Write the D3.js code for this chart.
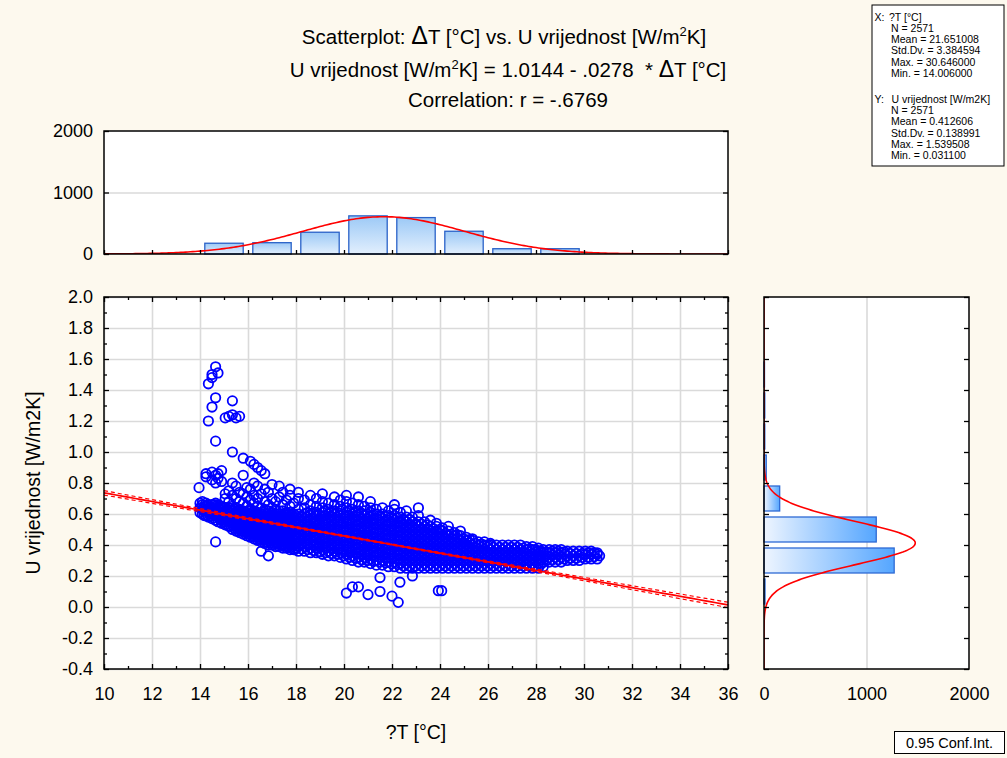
<!DOCTYPE html>
<html><head><meta charset="utf-8">
<script src="https://cdn.jsdelivr.net/npm/d3@7"></script>
<style>
body{margin:0;background:#FDF9EE}
svg text{font-family:"Liberation Sans",Arial,sans-serif}
</style>
</head><body>
<svg id="c" width="1007" height="758"></svg>
<script>
// ---------------- data ----------------
const xTicks = [10,12,14,16,18,20,22,24,26,28,30,32,34,36];
const xMinorTicks = [11,13,15,17,19,21,23,25,27,29,31,33,35];
const yTicks = [-0.4,-0.2,0,0.2,0.4,0.6,0.8,1.0,1.2,1.4,1.6,1.8,2.0];
const yMinorTicks = [-0.3,-0.1,0.1,0.3,0.5,0.7,0.9,1.1,1.3,1.5,1.7,1.9];
const histTicks = [0,1000,2000];

const topHistBins = [14,16,18,20,22,24,26,28];          // bin starts, width 2
const topHistCounts = [175,184,354,620,592,370,86,86];
const rightHistBins = [0.0,0.2,0.4,0.6,0.8,1.0,1.2,1.4]; // bin starts, width 0.2
const rightHistCounts = [10,1270,1095,153,22,8,8,5];

const fitIntercept = 1.0144, fitSlope = -0.0278, fitR = -0.6769;
const nObs = 2571;
const xMean = 21.651008, xSD = 3.384594;
const yMean = 0.412606, ySD = 0.138991;

const statsXLines = ["N = 2571","Mean = 21.651008","Std.Dv. = 3.384594","Max. = 30.646000","Min. = 14.006000"];
const statsYLines = ["N = 2571","Mean = 0.412606","Std.Dv. = 0.138991","Max. = 1.539508","Min. = 0.031100"];

// scatter points: [ΔT, [U values...]]
const scatterCols = [
[13.96,[.77]],
[14.0,[.61,.64,.67]],
[14.1,[.60,.63,.66,.68]],
[14.25,[.59,.62,.65,.67,.84,.86]],
[14.35,[.58,.61,.64,.66,1.20,1.44]],
[14.5,[.57,.60,.63,.66,.82,.87,1.29,1.48,1.50]],
[14.65,[.42,.56,.59,.62,.65,.67,.80,.85,1.07,1.35,1.55]],
[14.75,[.55,.58,.61,.64,.66,.83,.86,1.51]],
[14.9,[.54,.57,.60,.63,.65,.81,.88]],
[15.05,[.53,.56,.59,.62,.64,.70,.73,1.22]],
[15.2,[.52,.55,.58,.61,.64,.68,.75,1.23]],
[15.35,[.50,.53,.56,.59,.62,.65,.72,.80,1.00,1.24,1.33]],
[15.5,[.49,.52,.55,.58,.61,.64,.70,.78,1.22]],
[15.65,[.48,.51,.54,.57,.60,.63,.68,.74,1.23]],
[15.8,[.47,.50,.53,.56,.59,.62,.67,.73,.85,.96]],
[15.95,[.46,.49,.52,.55,.58,.61,.65,.71,.77]],
[16.1,[.45,.48,.51,.54,.57,.60,.63,.69,.76,.94]],
[16.25,[.44,.47,.50,.53,.56,.59,.62,.67,.72,.80,.92]],
[16.4,[.43,.46,.49,.52,.55,.58,.61,.65,.70,.78,.90]],
[16.55,[.36,.42,.45,.48,.51,.54,.57,.60,.64,.73,.88]],
[16.7,[.41,.44,.47,.50,.53,.56,.59,.63,.68,.76,.86]],
[16.85,[.33,.40,.43,.46,.49,.52,.55,.58,.62,.66,.74]],
[17.0,[.40,.43,.46,.49,.52,.55,.58,.61,.64,.70,.79]],
[17.15,[.39,.42,.45,.48,.51,.54,.57,.60,.63,.68]],
[17.3,[.39,.42,.45,.48,.51,.54,.57,.60,.62,.71,.78]],
[17.45,[.38,.41,.44,.47,.50,.53,.56,.59,.62,.66,.74]],
[17.6,[.38,.41,.44,.47,.50,.53,.56,.59,.61,.69]],
[17.75,[.37,.40,.43,.46,.49,.52,.55,.58,.61,.65,.72,.76]],
[17.9,[.37,.40,.43,.46,.49,.52,.55,.58,.60,.67]],
[17.96,[.37]],
[18.1,[.36,.39,.42,.45,.48,.51,.54,.57,.60,.63,.70,.74]],
[18.35,[.36,.39,.42,.45,.48,.51,.54,.57,.60,.64,.69]],
[18.6,[.35,.38,.41,.44,.47,.50,.53,.56,.59,.62,.66,.72]],
[18.85,[.35,.38,.41,.44,.47,.50,.53,.56,.59,.61,.65,.70]],
[19.1,[.34,.37,.40,.43,.46,.49,.52,.55,.58,.61,.64,.68,.73]],
[19.35,[.33,.36,.39,.42,.45,.48,.51,.54,.57,.60,.63,.67]],
[19.6,[.33,.36,.39,.42,.45,.48,.51,.54,.57,.60,.62,.66,.71]],
[19.85,[.32,.35,.38,.41,.44,.47,.50,.53,.56,.59,.62,.65,.69]],
[20.1,[.09,.31,.34,.37,.40,.43,.46,.49,.52,.55,.58,.61,.64,.68,.72]],
[20.35,[.13,.30,.33,.36,.39,.42,.45,.48,.51,.54,.57,.60,.63,.67]],
[20.6,[.13,.29,.32,.35,.38,.41,.44,.47,.50,.53,.56,.59,.62,.66,.71]],
[20.85,[.29,.32,.35,.38,.41,.44,.47,.50,.53,.56,.59,.62,.65]],
[21.0,[.08]],
[21.1,[.28,.31,.34,.37,.40,.43,.46,.49,.52,.55,.58,.61,.64,.68]],
[21.35,[.27,.30,.33,.36,.39,.42,.45,.48,.51,.54,.57,.60,.63]],
[21.5,[.10,.19]],
[21.6,[.27,.30,.33,.36,.39,.42,.45,.48,.51,.54,.57,.60,.64]],
[21.85,[.26,.29,.32,.35,.38,.41,.44,.47,.50,.53,.56,.59,.62]],
[22.0,[.07]],
[22.1,[.26,.29,.32,.35,.38,.41,.44,.47,.50,.53,.56,.59,.63,.66]],
[22.26,[.03]],
[22.33,[.16]],
[22.35,[.25,.28,.31,.34,.37,.40,.43,.46,.49,.52,.55,.58,.61]],
[22.6,[.25,.28,.31,.34,.37,.40,.43,.46,.49,.52,.55,.58,.62]],
[22.85,[.20,.25,.28,.31,.34,.37,.40,.43,.46,.49,.52,.55,.58]],
[23.1,[.25,.28,.31,.34,.37,.40,.43,.46,.49,.52,.55,.59,.64]],
[23.35,[.25,.28,.31,.34,.37,.40,.43,.46,.49,.52,.55]],
[23.6,[.25,.28,.31,.34,.37,.40,.43,.46,.49,.52,.56]],
[23.85,[.25,.28,.31,.34,.37,.40,.43,.46,.49,.52,.54]],
[23.93,[.105]],
[24.07,[.105]],
[24.1,[.25,.28,.31,.34,.37,.40,.43,.46,.49,.51]],
[24.35,[.25,.28,.31,.34,.37,.40,.43,.46,.49,.52]],
[24.6,[.25,.28,.31,.34,.37,.40,.43,.46,.48]],
[24.85,[.25,.28,.31,.34,.37,.40,.43,.46,.49]],
[25.1,[.25,.28,.31,.34,.37,.40,.43,.45]],
[25.35,[.25,.28,.31,.34,.37,.40,.43,.44]],
[25.6,[.25,.28,.31,.34,.37,.40,.42]],
[25.85,[.25,.28,.31,.34,.37,.40,.42]],
[26.1,[.25,.28,.31,.34,.37,.40,.41]],
[26.35,[.25,.28,.31,.34,.37,.40]],
[26.6,[.25,.28,.31,.34,.37,.40]],
[26.85,[.25,.28,.31,.34,.37,.40]],
[27.1,[.25,.28,.31,.34,.37,.40]],
[27.35,[.25,.28,.31,.34,.37,.40]],
[27.6,[.25,.28,.31,.34,.37,.39]],
[27.85,[.25,.28,.31,.34,.37,.39]],
[28.1,[.25,.28,.31,.34,.36,.38]],
[28.3,[.26,.29,.32,.35,.37]],
[28.55,[.29,.32,.35,.37]],
[28.8,[.29,.32,.35,.37]],
[29.05,[.29,.32,.35,.37]],
[29.3,[.30,.33,.36]],
[29.55,[.30,.33,.36]],
[29.8,[.30,.33,.36]],
[30.05,[.31,.34,.36]],
[30.3,[.31,.34,.36]],
[30.55,[.31,.34,.35]],
[30.65,[.33]]
];
// further points inside the dense core of the cloud
const scatterColsCore = [
[14.18,[.59,.62,.65]],
[14.43,[.585,.615,.645]],
[14.58,[.575,.605,.635,.66]],
[14.83,[.565,.595,.625,.655]],
[14.98,[.55,.58,.61,.64]],
[15.13,[.535,.565,.595,.625]],
[15.28,[.52,.55,.58,.61,.635]],
[15.43,[.51,.54,.57,.60,.63]],
[15.58,[.50,.53,.56,.59,.62]],
[15.73,[.49,.52,.55,.58,.61]],
[15.88,[.48,.51,.54,.57,.60]],
[16.03,[.47,.50,.53,.56,.59,.62]],
[16.18,[.46,.49,.52,.55,.58,.61]],
[16.33,[.45,.48,.51,.54,.57,.60]],
[16.48,[.44,.47,.50,.53,.56,.59]],
[16.63,[.43,.46,.49,.52,.55,.58,.61]],
[16.78,[.42,.45,.48,.51,.54,.57,.60]],
[16.93,[.415,.445,.475,.505,.535,.565,.595]],
[17.08,[.41,.44,.47,.50,.53,.56,.59]],
[17.23,[.405,.435,.465,.495,.525,.555,.585]],
[17.38,[.40,.43,.46,.49,.52,.55,.58]],
[17.53,[.395,.425,.455,.485,.515,.545,.575]],
[17.68,[.39,.42,.45,.48,.51,.54,.57,.60]],
[17.83,[.385,.415,.445,.475,.505,.535,.565,.595]],
[18.0,[.38,.41,.44,.47,.50,.53,.56,.59]],
[18.23,[.375,.405,.435,.465,.495,.525,.555,.585]],
[18.48,[.37,.40,.43,.46,.49,.52,.55,.58,.61]],
[18.73,[.365,.395,.425,.455,.485,.515,.545,.575,.605]],
[18.98,[.355,.385,.415,.445,.475,.505,.535,.565,.595]],
[19.23,[.35,.38,.41,.44,.47,.50,.53,.56,.59,.62]],
[19.48,[.345,.375,.405,.435,.465,.495,.525,.555,.585,.615]],
[19.73,[.34,.37,.40,.43,.46,.49,.52,.55,.58,.61]],
[19.98,[.33,.36,.39,.42,.45,.48,.51,.54,.57,.60]],
[20.23,[.32,.35,.38,.41,.44,.47,.50,.53,.56,.59,.62]],
[20.48,[.315,.345,.375,.405,.435,.465,.495,.525,.555,.585,.615]],
[20.73,[.305,.335,.365,.395,.425,.455,.485,.515,.545,.575,.605]],
[20.98,[.30,.33,.36,.39,.42,.45,.48,.51,.54,.57,.60]],
[21.23,[.295,.325,.355,.385,.415,.445,.475,.505,.535,.565,.595]],
[21.48,[.29,.32,.35,.38,.41,.44,.47,.50,.53,.56,.59]],
[21.73,[.285,.315,.345,.375,.405,.435,.465,.495,.525,.555,.585]],
[21.98,[.28,.31,.34,.37,.40,.43,.46,.49,.52,.55,.58]],
[22.23,[.275,.305,.335,.365,.395,.425,.455,.485,.515,.545,.575]],
[22.48,[.265,.295,.325,.355,.385,.415,.445,.475,.505,.535,.565]],
[22.73,[.265,.295,.325,.355,.385,.415,.445,.475,.505,.535,.565]],
[22.98,[.265,.295,.325,.355,.385,.415,.445,.475,.505,.535]],
[23.23,[.265,.295,.325,.355,.385,.415,.445,.475,.505,.535]],
[23.48,[.265,.295,.325,.355,.385,.415,.445,.475,.505,.53]],
[23.73,[.265,.295,.325,.355,.385,.415,.445,.475,.505]],
[23.98,[.265,.295,.325,.355,.385,.415,.445,.475,.50]],
[24.23,[.265,.295,.325,.355,.385,.415,.445,.475]],
[24.48,[.265,.295,.325,.355,.385,.415,.445,.47]],
[24.73,[.265,.295,.325,.355,.385,.415,.445,.465]],
[24.98,[.265,.295,.325,.355,.385,.415,.44]],
[25.23,[.265,.295,.325,.355,.385,.415,.435]],
[25.48,[.265,.295,.325,.355,.385,.41]],
[25.73,[.265,.295,.325,.355,.385,.405]],
[25.98,[.265,.295,.325,.355,.385,.40]],
[26.23,[.265,.295,.325,.355,.385]],
[26.48,[.265,.295,.325,.355,.385]],
[26.73,[.265,.295,.325,.355,.385]],
[26.98,[.265,.295,.325,.355,.385]],
[27.23,[.265,.295,.325,.355,.385]],
[27.48,[.265,.295,.325,.355,.38]],
[27.73,[.265,.295,.325,.355,.375]],
[27.98,[.265,.295,.325,.355,.37]],
[28.2,[.275,.305,.335,.36]],
[28.43,[.30,.33,.355]],
[28.68,[.305,.335,.36]],
[28.93,[.305,.335,.36]],
[29.18,[.31,.34,.355]],
[29.43,[.315,.345]],
[29.68,[.315,.345]],
[29.93,[.32,.345]],
[30.18,[.32,.35]],
[30.43,[.325,.35]]
];

// ---------------- drawing ----------------
const FONT = '"Liberation Sans", Arial, sans-serif';
const fmtLocale = d3.formatLocale({decimal:".", thousands:"", grouping:[3], currency:["",""], minus:"-"});
const svg = d3.select("#c");
svg.append("rect").attr("width",1007).attr("height",758).attr("fill","#FDF9EE");

const defs = svg.append("defs");
const gTop = defs.append("linearGradient").attr("id","gTop").attr("x1",0).attr("y1",0).attr("x2",0).attr("y2",1);
gTop.append("stop").attr("offset","0%").attr("stop-color","#9CC9F6");
gTop.append("stop").attr("offset","100%").attr("stop-color","#E2EFFD");
const gRight = defs.append("linearGradient").attr("id","gRight").attr("x1",0).attr("y1",0).attr("x2",1).attr("y2",0);
gRight.append("stop").attr("offset","0%").attr("stop-color","#EEF5FF");
gRight.append("stop").attr("offset","100%").attr("stop-color","#55A6FF");

const x = d3.scaleLinear().domain([10,36]).range([104,728]);
const y = d3.scaleLinear().domain([-0.4,2.0]).range([669,297]);
const yTop = d3.scaleLinear().domain([0,2000]).range([254,131]);
const xRight = d3.scaleLinear().domain([0,2000]).range([764,969]);

defs.append("clipPath").attr("id","clipMain").append("rect")
  .attr("x",x(10)).attr("y",y(2)).attr("width",x(36)-x(10)).attr("height",y(-0.4)-y(2));
defs.append("clipPath").attr("id","clipTop").append("rect")
  .attr("x",x(10)).attr("y",yTop(2000)).attr("width",x(36)-x(10)).attr("height",yTop(0)-yTop(2000));
defs.append("clipPath").attr("id","clipRight").append("rect")
  .attr("x",xRight(0)).attr("y",y(2)).attr("width",xRight(2000)-xRight(0)).attr("height",y(-0.4)-y(2));

function clean(g, fs){
  g.attr("font-family",FONT).attr("font-size",fs||18);
  g.select(".domain").remove();
  g.selectAll("text").attr("fill","#000");
  return g;
}
function grid(g){ g.select(".domain").remove(); g.selectAll("line").attr("stroke","#DADADA").attr("stroke-width",1.6); g.selectAll("text").remove(); }
function ticks(g){ g.select(".domain").remove(); g.selectAll("line").attr("stroke","#000").attr("stroke-width",1.3); g.selectAll("text").remove(); }

// ===== main scatter panel =====
const mainG = svg.append("g");
mainG.append("rect").attr("x",x(10)).attr("y",y(2)).attr("width",x(36)-x(10)).attr("height",y(-0.4)-y(2)).attr("fill","#fff");
mainG.append("g").attr("transform",`translate(0,${y(-0.4)})`)
  .call(d3.axisBottom(x).tickValues(xTicks).tickSize(-(y(-0.4)-y(2))).tickFormat("")).call(grid);
mainG.append("g").attr("transform",`translate(${x(10)},0)`)
  .call(d3.axisLeft(y).tickValues(yTicks).tickSize(-(x(36)-x(10))).tickFormat("")).call(grid);

const pts = [];
scatterCols.concat(scatterColsCore).forEach(([xv, ys]) => ys.forEach(yv => pts.push([xv, yv])));
mainG.append("g").attr("clip-path","url(#clipMain)").selectAll("circle").data(pts).join("circle")
  .attr("cx",d=>x(d[0])).attr("cy",d=>y(d[1])).attr("r",4.7)
  .attr("fill","none").attr("stroke","#0000FF").attr("stroke-width",1.8);

// regression line and 95% confidence band
const resVar = (1 - fitR*fitR) * ySD*ySD * (nObs-1)/(nObs-2);
const sxx = (nObs-1) * xSD*xSD;
const fitX = d3.range(10, 36.001, 0.25);
const fitY = v => fitIntercept + fitSlope*v;
const half = v => 1.96*Math.sqrt(resVar*(1/nObs + (v-xMean)*(v-xMean)/sxx));
const lineF = d3.line().x(d=>x(d[0])).y(d=>y(d[1]));
const rg = mainG.append("g").attr("clip-path","url(#clipMain)");
rg.append("path").attr("d",lineF(fitX.map(v=>[v,fitY(v)+half(v)]))).attr("fill","none").attr("stroke","#FF0000").attr("stroke-width",1.2).attr("stroke-dasharray","4,3");
rg.append("path").attr("d",lineF(fitX.map(v=>[v,fitY(v)-half(v)]))).attr("fill","none").attr("stroke","#FF0000").attr("stroke-width",1.2).attr("stroke-dasharray","4,3");
rg.append("path").attr("d",lineF(fitX.map(v=>[v,fitY(v)]))).attr("fill","none").attr("stroke","#FF0000").attr("stroke-width",1.7);

// ticks (inward) on all four sides
mainG.append("g").attr("transform",`translate(0,${y(-0.4)})`).call(d3.axisBottom(x).tickValues(xTicks).tickSize(-5)).call(ticks);
mainG.append("g").attr("transform",`translate(0,${y(-0.4)})`).call(d3.axisBottom(x).tickValues(xMinorTicks).tickSize(-3)).call(ticks);
mainG.append("g").attr("transform",`translate(0,${y(2)})`).call(d3.axisTop(x).tickValues(xTicks).tickSize(-5)).call(ticks);
mainG.append("g").attr("transform",`translate(0,${y(2)})`).call(d3.axisTop(x).tickValues(xMinorTicks).tickSize(-3)).call(ticks);
mainG.append("g").attr("transform",`translate(${x(10)},0)`).call(d3.axisLeft(y).tickValues(yTicks).tickSize(-5)).call(ticks);
mainG.append("g").attr("transform",`translate(${x(10)},0)`).call(d3.axisLeft(y).tickValues(yMinorTicks).tickSize(-3)).call(ticks);
mainG.append("g").attr("transform",`translate(${x(36)},0)`).call(d3.axisRight(y).tickValues(yTicks).tickSize(-5)).call(ticks);
mainG.append("g").attr("transform",`translate(${x(36)},0)`).call(d3.axisRight(y).tickValues(yMinorTicks).tickSize(-3)).call(ticks);
mainG.append("rect").attr("x",x(10)).attr("y",y(2)).attr("width",x(36)-x(10)).attr("height",y(-0.4)-y(2)).attr("fill","none").attr("stroke","#000").attr("stroke-width",1.5);

// labels
mainG.append("g").attr("transform",`translate(0,${y(-0.4)})`)
  .call(d3.axisBottom(x).tickValues(xTicks).tickSize(0).tickPadding(18).tickFormat(fmtLocale.format("d"))).call(g=>clean(g,18));
mainG.append("g").attr("transform",`translate(${x(10)},0)`)
  .call(d3.axisLeft(y).tickValues(yTicks).tickSize(0).tickPadding(11).tickFormat(fmtLocale.format(".1f"))).call(g=>clean(g,18));

// ===== top histogram =====
const topG = svg.append("g");
topG.append("rect").attr("x",x(10)).attr("y",yTop(2000)).attr("width",x(36)-x(10)).attr("height",yTop(0)-yTop(2000)).attr("fill","#fff");
topG.append("g").attr("transform",`translate(${x(10)},0)`)
  .call(d3.axisLeft(yTop).tickValues([1000]).tickSize(-(x(36)-x(10))).tickFormat("")).call(grid);
topG.append("g").selectAll("rect").data(topHistBins.map((b,i)=>[b,topHistCounts[i]])).join("rect")
  .attr("x",d=>x(d[0]+0.2)).attr("width",d=>x(d[0]+1.8)-x(d[0]+0.2))
  .attr("y",d=>yTop(d[1])).attr("height",d=>yTop(0)-yTop(d[1]))
  .attr("fill","url(#gTop)").attr("stroke","#2A62C8").attr("stroke-width",1.3);
const normX = d3.range(10, 36.001, 0.1);
const pdf = (v,m,s) => Math.exp(-0.5*((v-m)/s)**2)/(s*Math.sqrt(2*Math.PI));
topG.append("path").attr("clip-path","url(#clipTop)")
  .attr("d", d3.line().x(d=>x(d)).y(d=>yTop(nObs*2*pdf(d,xMean,xSD)))(normX))
  .attr("fill","none").attr("stroke","#FF0000").attr("stroke-width",1.6);
topG.append("g").attr("transform",`translate(0,${yTop(0)})`).call(d3.axisBottom(x).tickValues(xTicks).tickSize(-4)).call(ticks);
topG.append("g").attr("transform",`translate(${x(10)},0)`).call(d3.axisLeft(yTop).tickValues(histTicks).tickSize(-5)).call(ticks);
topG.append("g").attr("transform",`translate(${x(36)},0)`).call(d3.axisRight(yTop).tickValues(histTicks).tickSize(-5)).call(ticks);
topG.append("rect").attr("x",x(10)).attr("y",yTop(2000)).attr("width",x(36)-x(10)).attr("height",yTop(0)-yTop(2000)).attr("fill","none").attr("stroke","#000").attr("stroke-width",1.5);
topG.append("g").attr("transform",`translate(${x(10)},0)`)
  .call(d3.axisLeft(yTop).tickValues(histTicks).tickSize(0).tickPadding(11).tickFormat(fmtLocale.format("d"))).call(g=>clean(g,18));

// ===== right histogram =====
const rightG = svg.append("g");
rightG.append("rect").attr("x",xRight(0)).attr("y",y(2)).attr("width",xRight(2000)-xRight(0)).attr("height",y(-0.4)-y(2)).attr("fill","#fff");
rightG.append("g").attr("transform",`translate(0,${y(-0.4)})`)
  .call(d3.axisBottom(xRight).tickValues([1000]).tickSize(-(y(-0.4)-y(2))).tickFormat("")).call(grid);
rightG.append("g").selectAll("rect").data(rightHistBins.map((b,i)=>[b,rightHistCounts[i]])).join("rect")
  .attr("x",xRight(0)).attr("width",d=>xRight(d[1])-xRight(0))
  .attr("y",d=>y(d[0]+0.2)+3).attr("height",d=>y(d[0])-y(d[0]+0.2)-6)
  .attr("fill","url(#gRight)").attr("stroke","#2E6AD4").attr("stroke-width",1.3);
const normY = d3.range(-0.4, 2.0001, 0.005);
rightG.append("path").attr("clip-path","url(#clipRight)")
  .attr("d", d3.line().x(d=>xRight(nObs*0.2*pdf(d,yMean,ySD))).y(d=>y(d))(normY))
  .attr("fill","none").attr("stroke","#FF0000").attr("stroke-width",1.6);
rightG.append("g").attr("transform",`translate(${xRight(0)},0)`).call(d3.axisLeft(y).tickValues(yTicks).tickSize(-5)).call(ticks);
rightG.append("g").attr("transform",`translate(${xRight(2000)},0)`).call(d3.axisRight(y).tickValues(yTicks).tickSize(-5)).call(ticks);
rightG.append("rect").attr("x",xRight(0)).attr("y",y(2)).attr("width",xRight(2000)-xRight(0)).attr("height",y(-0.4)-y(2)).attr("fill","none").attr("stroke","#000").attr("stroke-width",1.5);
rightG.append("g").attr("transform",`translate(0,${y(-0.4)})`)
  .call(d3.axisBottom(xRight).tickValues(histTicks).tickSize(0).tickPadding(18).tickFormat(fmtLocale.format("d"))).call(g=>clean(g,18));

// ===== titles =====
const TFS = 20.5;
const t1 = svg.append("text").attr("x",504).attr("y",44).attr("text-anchor","middle").attr("font-size",TFS).style("white-space","pre");
t1.append("tspan").text("Scatterplot: ");
t1.append("tspan").attr("font-size",25).text("Δ");
t1.append("tspan").text("T [°C] vs. U vrijednost [W/m");
t1.append("tspan").attr("font-size",13).attr("dy",-8).text("2");
t1.append("tspan").attr("dy",8).text("K]");
const t2 = svg.append("text").attr("x",508).attr("y",77).attr("text-anchor","middle").attr("font-size",TFS).style("white-space","pre");
t2.append("tspan").text("U vrijednost [W/m");
t2.append("tspan").attr("font-size",13).attr("dy",-8).text("2");
t2.append("tspan").attr("dy",8).text(`K] = ${fitIntercept.toFixed(4)} - ${fmtLocale.format(".4f")(-fitSlope).replace(/^0/,"")}  * `);
t2.append("tspan").attr("font-size",23).text("Δ");
t2.append("tspan").text("T [°C]");
svg.append("text").attr("x",508).attr("y",107).attr("text-anchor","middle").attr("font-size",TFS)
  .text(`Correlation: r = ${fmtLocale.format(".4f")(fitR).replace("0.",".")}`);

// axis titles
svg.append("text").attr("x",(x(10)+x(36))/2).attr("y",739).attr("text-anchor","middle").attr("font-size",19.5).text("?T [°C]");
svg.append("text").attr("transform",`translate(40,${(y(2)+y(-0.4))/2}) rotate(-90)`).attr("text-anchor","middle").attr("font-size",19.5).text("U vrijednost [W/m2K]");

// ===== stats box =====
svg.append("rect").attr("x",872).attr("y",5).attr("width",132).attr("height",161).attr("fill","#fff").attr("stroke","#000").attr("stroke-width",1);
const sb = svg.append("g").attr("font-size",10.5);
sb.append("text").attr("x",874.5).attr("y",20.5).text("X:");
sb.append("text").attr("x",889).attr("y",20.5).text("?T [°C]");
statsXLines.forEach((s,i)=> sb.append("text").attr("x",891).attr("y",31.8+i*11.3).text(s));
sb.append("text").attr("x",874.5).attr("y",102.8).text("Y:");
sb.append("text").attr("x",891.5).attr("y",102.8).text("U vrijednost [W/m2K]");
statsYLines.forEach((s,i)=> sb.append("text").attr("x",891).attr("y",114.1+i*11.3).text(s));

// ===== conf int box =====
svg.append("rect").attr("x",894.5).attr("y",731.5).attr("width",110).attr("height",22).attr("fill","#fff").attr("stroke","#000").attr("stroke-width",1);
svg.append("text").attr("x",949.5).attr("y",748).attr("text-anchor","middle").attr("font-size",14.5).text("0.95 Conf.Int.");
</script>
</body></html>
